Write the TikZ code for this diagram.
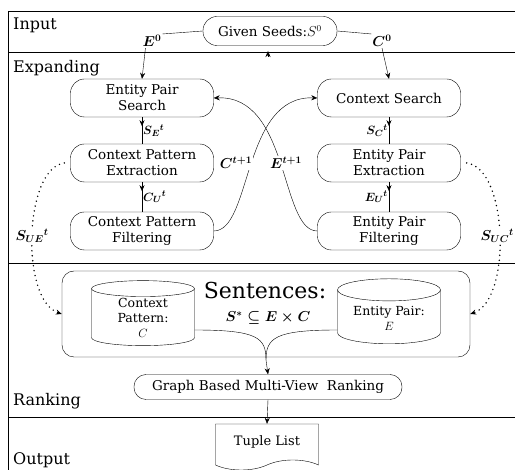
\documentclass[tikz,border=0pt]{standalone}
\usepackage{amsmath, amssymb}
\usepackage{fontspec}
\setmainfont{DejaVu Serif}
\usetikzlibrary{calc, arrows.meta, shapes.geometric, shapes.symbols, decorations.markings}

\begin{document}
\begin{tikzpicture}[x=1pt, y=-1pt, >={Stealth[length=6pt, width=5pt]},
    stage/.style={draw, rounded corners=14pt, minimum width=143pt, minimum height=38pt,
        align=center, inner sep=2pt, font=\fontsize{13.5}{16}\selectfont},
    lane/.style={anchor=west, inner sep=0pt, font=\fontsize{16}{18}\selectfont},
    var/.style={fill=white, inner sep=1pt, font=\boldmath\fontsize{14}{16}\selectfont},
    store/.style={draw, cylinder, shape border rotate=90, aspect=0.3, minimum width=103pt,
        minimum height=65pt, align=center, inner sep=1pt, font=\fontsize{12.5}{15}\selectfont},
    tipnear/.style={postaction={decorate},
        decoration={markings, mark=at position 9pt with {\arrow{>}}}},
    feedback/.style={line width=1.6pt, line cap=round, dash pattern=on 0pt off 5pt}]
    \useasboundingbox (0,0) rectangle (515,470);

    % lanes
    \draw (8,11) -- (515,11);
    \draw (8,52) -- (515,52);
    \draw (8,263) -- (515,263);
    \draw (8,417) -- (515,417);
    \draw (8,11) -- (8,470);
    \node[lane] (input) at (13,25) {Input};
    \node[lane] (expanding) at (13,68) {Expanding};
    \node[lane] (ranking) at (13,401) {Ranking};
    \node[lane] (output) at (13,460) {Output};

    % input
    \node[stage, minimum width=134pt, minimum height=29pt] (seed) at (270,31) {Given Seeds:$S^0$};
    \node[var] (e0) at (152,41) {$E^0$};
    \node[var] (c0) at (382,41) {$C^0$};
    \coordinate (back) at (268,57);
    \draw[->] (back) -- ++(0,-6);

    % expanding
    \node[stage] (eps) at (142,98) {Entity Pair\\Search};
    \node[stage] (cpe) at (142,163) {Context Pattern\\Extraction};
    \node[stage] (cpf) at (142,231) {Context Pattern\\Filtering};
    \node[stage] (cs) at (389,98) {Context Search};
    \node[stage] (epe) at (389,163) {Entity Pair\\Extraction};
    \node[stage] (epf) at (389,231) {Entity Pair\\Filtering};

    \draw (seed.west) -- (e0.north east);
    \draw (seed.east) -- (c0.north west);
    \draw[->] (e0.south west) ++(4,0) -- (eps.north);
    \draw[->] (c0.south) -- (cs.north);

    \draw[tipnear] (eps) -- (cpe) node[midway, right, inner sep=1pt, font=\boldmath\fontsize{13}{15}\selectfont] {$S_E{}^t$};
    \draw[tipnear] (cpe) -- (cpf) node[midway, right, inner sep=1pt, font=\boldmath\fontsize{13}{15}\selectfont] {$C_U{}^t$};
    \draw[tipnear] (cs) -- (epe) node[midway, left, inner sep=1pt, font=\boldmath\fontsize{13}{15}\selectfont] {$S_C{}^t$};
    \draw[tipnear] (epe) -- (epf) node[midway, left, inner sep=1pt, font=\boldmath\fontsize{13}{15}\selectfont] {$E_U{}^t$};

    \draw[->] (cpf.east) .. controls (252,231) and (242,95) .. (cs.west);
    \draw[->] (epf.west) .. controls (280,231) and (290,95) .. (eps.east);
    \node[var] (cnext) at (236,163) {$C^{t+1}$};
    \node[var] (enext) at (286,163) {$E^{t+1}$};

    % ranking
    \node[draw, rounded corners=12pt, minimum width=408pt, minimum height=86pt] (sent) at (266,314) {};
    \node[font=\fontsize{22}{24}\selectfont, inner sep=0pt] (title) at (265,290) {Sentences:};
    \node[font=\boldmath\fontsize{14}{16}\selectfont, inner sep=0pt] (prod) at (268,318) {$S^{*}\subseteq E\times C$};
    \node[store] (cp) at (143,318) {Context\\Pattern:\\$C$};
    \node[store] (ep) at (389,318) {Entity Pair:\\$E$};

    \draw[feedback, ->] ($(cpe.west)+(-6,0)$) .. controls (24,168) and (20,300) .. (sent.west);
    \draw[feedback, ->] ($(epe.east)+(6,0)$) .. controls (508,168) and (512,300) .. (sent.east);
    \node[var] (sue) at (32,236) {$S_{UE}{}^t$};
    \node[var, anchor=east] (suc) at (515,236) {$S_{UC}{}^t$};

    \node[stage, minimum width=268pt, minimum height=25pt, rounded corners=12pt] (rank) at (268,387) {Graph Based Multi-View\ \ Ranking};
    \coordinate (join) at (266,360);
    \draw ($(cp.east)+(0,12)$) .. controls (258,330) and (266,338) .. (join);
    \draw ($(ep.west)+(0,12)$) .. controls (275,330) and (266,338) .. (join);
    \draw[->] (join) -- (rank.north);

    % output
    \node[draw, tape, tape bend top=none, tape bend height=10pt, minimum width=103pt,
        minimum height=46pt, font=\fontsize{13}{15}\selectfont] (tuple) at (267,442) {Tuple List};
    \draw[->] (rank.south) -- (tuple.north);
\end{tikzpicture}
\end{document}
